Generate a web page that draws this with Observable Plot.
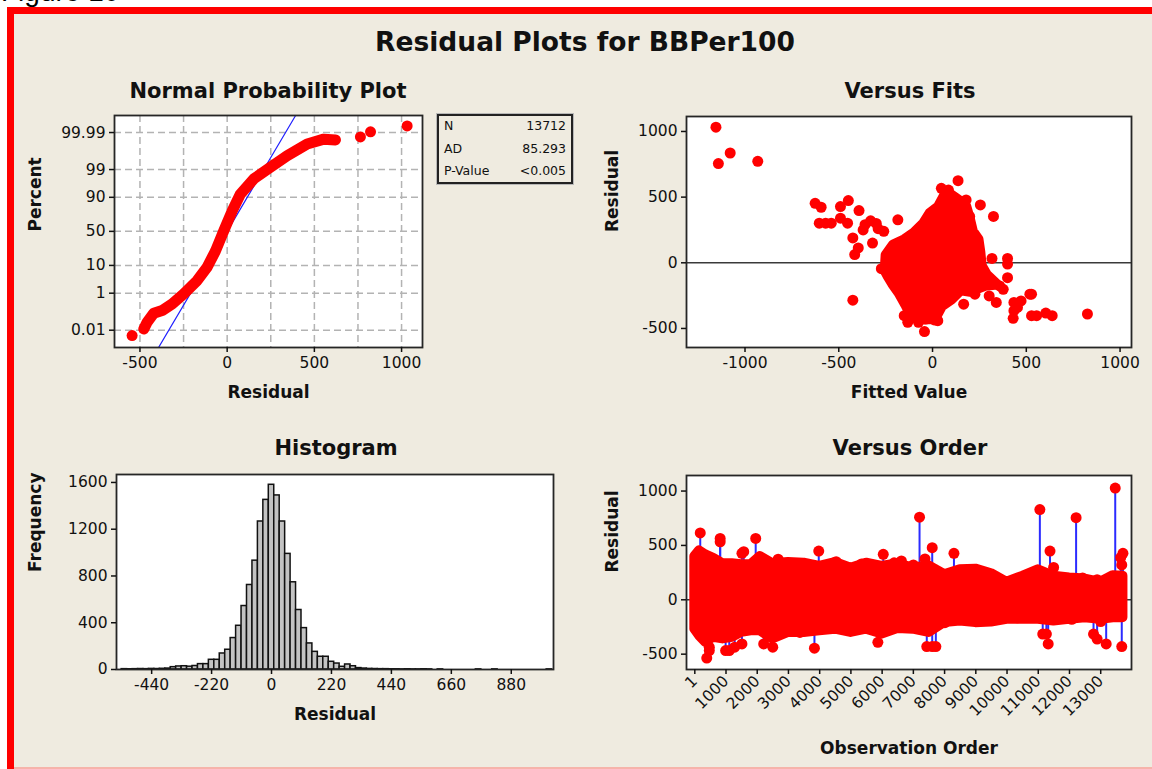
<!DOCTYPE html>
<html>
<head>
<meta charset="utf-8">
<script src="https://cdn.jsdelivr.net/npm/d3@7"></script>
<script src="https://cdn.jsdelivr.net/npm/@observablehq/plot@0.6"></script>
<style>
  body { margin: 0; background: #fff; }
  #page { position: relative; width: 1152px; height: 769px; overflow: hidden; background: #fff;
          font-family: "DejaVu Sans", sans-serif; color: #111; }
  #figlabel { position: absolute; left: 1px; top: -22px; font: 28px/28px "Liberation Sans", Arial, sans-serif; color: #000; }
  #panel { position: absolute; left: 7px; top: 7px; width: 1160px; height: 770px; box-sizing: border-box;
           background: #efebe0; border-left: 7px solid #ff0000; border-top: 7px solid #ff0000; }
  #bottomline { position: absolute; left: 14px; top: 767px; width: 1140px; height: 2px; background: #f6b3aa; }
  .title { position: absolute; transform: translate(-50%, -50%); font-weight: bold; white-space: nowrap; line-height: 1; color: #111; }
  .chart { position: absolute; }
  #stats { position: absolute; left: 437px; top: 114px; width: 136px; height: 70px; box-sizing: border-box;
           border: 2px solid #222; box-shadow: 0 0 0 1px #b8b8b8; font-size: 12.5px; color: #111; }
  #stats .row { position: absolute; left: 5px; right: 5px; height: 14px; line-height: 14px; }
  #stats .row span:last-child { position: absolute; right: 0; }
</style>
</head>
<body>
<div id="page">
  <div id="figlabel">Figure 10</div>
  <div id="panel"></div>
  <div id="bottomline"></div>
  <div class="title" style="left:585px; top:42px; font-size:26.5px;">Residual Plots for BBPer100</div>
  <div class="title" style="left:268px; top:91px; font-size:21px;">Normal Probability Plot</div>
  <div class="title" style="left:910px; top:91px; font-size:21px;">Versus Fits</div>
  <div class="title" style="left:336px; top:448px; font-size:21px;">Histogram</div>
  <div class="title" style="left:910px; top:448px; font-size:21px;">Versus Order</div>
  <div id="stats"></div>
</div>
<script>
// ---------------- data ----------------

// Normal probability plot: ordered residuals against cumulative percent
const probTicks = [0.01, 1, 10, 50, 90, 99, 99.99];
const probCurveResid = [-478, -459, -421, -373, -315, -249, -172, -115, -67, -19, 29, 76, 153, 248, 344, 459, 554, 621];
const probCurvePct   = [0.0121, 0.031, 0.103, 0.144, 0.317, 0.94, 3.2, 8.9, 23, 51, 78, 92, 97.6, 99.2, 99.78, 99.95, 99.974, 99.971];
const probTailResid = [-545, 764, 822, 1032];
const probTailPct   = [0.0044, 99.981, 99.991, 99.9964];
const fitMean = 0;
const fitStDev = 90;
const statNames  = ["N", "AD", "P-Value"];
const statValues = ["13712", "85.293", "<0.005"];

// Versus fits: outline of the dense core, then the separate points
const coreFit = [-255, -250, -210, -150, -100, -50, -15, 30, 60, 100, 140, 180, 200, 215, 245, 255, 262, 290, 345,
                 280, 200, 150, 100, 50, 20, -20, -80, -120, -145, -180, -215, -240];
const coreRes = [-60, 60, 140, 180, 230, 300, 380, 430, 510, 520, 480, 430, 330, 240, 180, 80, -20, -90, -165,
                 -175, -220, -210, -280, -330, -410, -430, -430, -390, -320, -230, -160, -100];
const fitsFit = [-1155, -1142, -1079, -932, -626, -594, -491, -449, -392, -604, -570, -540, -491, -453,
                 -425, -396, -415, -425, -360, -330, -300, -370, -290, -260, -320, -273, -185,
                 136, 47, 85, 179, 151, 198, 255, 325, 317, 400, 400, 400,
                 283, 358, 377, 302, 340, 434, 453, 434, 519, 472,
                 528, 430, 528, 555, 604, 638, 826, 166, 217, 226,
                 -151, -132, -75, -38, 0, 28, -43, 13];
const fitsRes = [1033, 756, 836, 773, 453, 423, 428, 474, 398, 302, 302, 302, 340, 302,
                 189, 113, 63, -285, 290, 320, 300, 250, 260, 240, 150, -45, 327,
                 625, 567, 554, 479, 453, 353, 441, 353, 33, 33, -10, -113,
                 -101, -176, -202, -252, -302, -302, -340, -365, -239, -290,
                 -239, -423, -403, -403, -383, -403, -390, -315, -214, -239,
                 -403, -453, -453, -428, -428, -441, -524, -436];

// Histogram of residuals: bins of width 20 centred on multiples of 20, from -540 to 1020
const histBinWidth = 20;
const histFirstCenter = -540;
const histCounts = [3, 2, 3, 4, 3, 5, 4, 6, 8,
                    20, 26, 28, 24,
                    30, 46, 46, 83, 83, 137, 169, 269, 374, 543, 723, 931, 1266, 1451,
                    1580,
                    1489, 1266, 989, 746, 509, 354, 223, 151, 109, 109, 66, 51, 23, 43, 28, 12, 8, 5, 4, 3,
                    3, 2, 2, 1, 2, 1, 1, 2, 1, 0,
                    1, 0, 0, 0, 0, 0, 0, 1, 0, 0, 1, 0, 0, 0, 0, 0, 0, 0, 0, 0, 1];

// Versus order: envelope of the dense band of residuals, the isolated residuals, and points along the band edge
const bandObs = [1, 150, 350, 600, 900, 1200, 1500, 1800, 2100, 2500, 3000, 3500, 4000, 4500, 5000, 5500, 6000,
                 6500, 7000, 7500, 8000, 8500, 9000, 9500, 10000, 10500, 11000, 11500, 12000, 12500, 13000, 13400, 13712];
const bandHi  = [397, 450, 413, 382, 331, 331, 322, 322, 397, 331, 343, 337, 307, 343, 291, 337, 307,
                 331, 291, 313, 231, 276, 282, 240, 161, 216, 276, 216, 200, 191, 161, 222, 216];
const bandLo  = [-270, -330, -390, -345, -360, -345, -300, -285, -285, -360, -300, -300, -285, -270, -300, -270, -315,
                 -265, -270, -300, -210, -195, -210, -205, -180, -180, -180, -195, -180, -165, -180, -165, -165];
const orderObs = [175, 813, 813, 1510, 1568, 1951, 3970, 6036, 6617, 7198, 7372, 7604, 8300, 11051, 11376, 11492,
                  12212, 13465, 13640, 13674, 13712, 384, 465, 465, 988, 1104, 1278, 1510, 2207, 2497, 3832, 5863,
                  7430, 7604, 7720, 11143, 11260, 11318, 12770, 12885, 13175, 13674];
const orderRes = [615, 564, 533, 427, 442, 564, 448, 418, 357, 760, 376, 479, 427, 830, 448, 297,
                  755, 1027, 388, 321, 427, -536, -467, -436, -467, -467, -436, -406, -406, -436, -445, -391,
                  -430, -430, -430, -315, -315, -406, -315, -361, -406, -430];
const edgeObs = [2670, 3367, 4528, 5340, 6385, 7000, 8590, 9170, 10330, 10796, 12420, 12885,
                 3367, 4992, 6385, 8010, 9170, 10330, 12072, 13000];
const edgeRes = [373, 330, 350, 330, 340, 320, 260, 240, 185, 245, 200, 185,
                 -300, -285, -240, -210, -180, -165, -180, -200];
const orderTicks = [1, 1000, 2000, 3000, 4000, 5000, 6000, 7000, 8000, 9000, 10000, 11000, 12000, 13000];

// ---------------- helpers ----------------

// inverse of the standard normal CDF (Acklam), used for the probability axis
function probit(p) {
  const a = [-3.969683028665376e+01, 2.209460984245205e+02, -2.759285104469687e+02, 1.383577518672690e+02, -3.066479806614716e+01, 2.506628277459239e+00];
  const b = [-5.447609879822406e+01, 1.615858368580409e+02, -1.556989798598866e+02, 6.680131188771972e+01, -1.328068155288572e+01];
  const c = [-7.784894002430293e-03, -3.223964580411365e-01, -2.400758277161838e+00, -2.549732539343734e+00, 4.374664141464968e+00, 2.938163982698783e+00];
  const d = [7.784695709041462e-03, 3.224671290700398e-01, 2.445134137142996e+00, 3.754408661907416e+00];
  const lo = 0.02425, hi = 1 - lo;
  let q, r;
  if (p < lo) {
    q = Math.sqrt(-2 * Math.log(p));
    return (((((c[0]*q + c[1])*q + c[2])*q + c[3])*q + c[4])*q + c[5]) / ((((d[0]*q + d[1])*q + d[2])*q + d[3])*q + 1);
  }
  if (p <= hi) {
    q = p - 0.5; r = q * q;
    return (((((a[0]*r + a[1])*r + a[2])*r + a[3])*r + a[4])*r + a[5])*q / (((((b[0]*r + b[1])*r + b[2])*r + b[3])*r + b[4])*r + 1);
  }
  q = Math.sqrt(-2 * Math.log(1 - p));
  return -(((((c[0]*q + c[1])*q + c[2])*q + c[3])*q + c[4])*q + c[5]) / ((((d[0]*q + d[1])*q + d[2])*q + d[3])*q + 1);
}
const zOf = pct => probit(pct / 100);

const baseStyle = {background: "none", fontFamily: '"DejaVu Sans", sans-serif', fontSize: "15.5px", color: "#111", overflow: "visible"};
const tickOpts = {label: null, tickSize: 5, tickPadding: 4, strokeWidth: 1.5, tickFormat: d => String(d)};
const titleOpts = {fontWeight: "bold", fontSize: 17, fill: "#111"};
const gridOpts = {stroke: "#b3b3b3", strokeOpacity: 1, strokeWidth: 1.5, strokeDasharray: "7,4"};
const frameLine = {stroke: "#262626", strokeWidth: 1.8};

function place(svg, left, top) {
  const holder = document.createElement("div");
  holder.className = "chart";
  holder.style.left = left + "px";
  holder.style.top = top + "px";
  holder.appendChild(svg);
  document.getElementById("page").appendChild(holder);
}

// ---------------- normal probability plot ----------------
const probTickZ = probTicks.map(zOf);
const probTickLabel = new Map(probTickZ.map((z, i) => [z, String(probTicks[i])]));
const zRange = [-4.37, 4.36];
const probCurve = probCurveResid.map((r, i) => ({r, z: zOf(probCurvePct[i])}));
const probTail = probTailResid.map((r, i) => ({r, z: zOf(probTailPct[i])}));
const fitLine = zRange.map(z => ({r: fitMean + fitStDev * z, z}));

place(Plot.plot({
  width: 412, height: 300,
  marginLeft: 94, marginRight: 10, marginTop: 10, marginBottom: 58,
  style: baseStyle,
  x: {domain: [-646, 1120]},
  y: {domain: zRange},
  marks: [
    Plot.frame({fill: "white"}),
    Plot.gridX([-500, -250, 0, 250, 500, 750, 1000], gridOpts),
    Plot.gridY(probTickZ, gridOpts),
    Plot.line(fitLine, {x: "r", y: "z", stroke: "#1f1fff", strokeWidth: 1.2, clip: true}),
    Plot.line(probCurve, {x: "r", y: "z", stroke: "#ff0000", strokeWidth: 11, strokeLinecap: "round", strokeLinejoin: "round"}),
    Plot.dot(probTail, {x: "r", y: "z", r: 5.5, fill: "#ff0000"}),
    Plot.frame(frameLine),
    Plot.axisX([-500, 0, 500, 1000], tickOpts),
    Plot.axisY(probTickZ, {...tickOpts, tickFormat: z => probTickLabel.get(z)}),
    Plot.text(["Residual"], {frameAnchor: "bottom", dy: 50, ...titleOpts}),
    Plot.text(["Percent"], {frameAnchor: "left", dx: -79, rotate: -90, ...titleOpts})
  ]
}), 20, 105);

// statistics box beside the probability plot
const stats = document.getElementById("stats");
statNames.forEach((name, i) => {
  const row = document.createElement("div");
  row.className = "row";
  row.style.top = (3 + i * 22.5) + "px";
  row.innerHTML = `<span>${name}</span><span>${statValues[i].replace("<", "&lt;")}</span>`;
  stats.appendChild(row);
});

// ---------------- versus fits ----------------
const core = coreFit.map((f, i) => ({f, r: coreRes[i]}));
const coreRing = core.concat([core[0]]);
const fitsPts = fitsFit.map((f, i) => ({f, r: fitsRes[i]}));

place(Plot.plot({
  width: 562, height: 300,
  marginLeft: 96, marginRight: 21, marginTop: 11, marginBottom: 58,
  style: baseStyle,
  x: {domain: [-1312, 1061]},
  y: {domain: [-645, 1114]},
  marks: [
    Plot.frame({fill: "white"}),
    Plot.ruleY([0], {stroke: "#3a3a3a", strokeWidth: 1.5}),
    Plot.line(coreRing, {x: "f", y: "r", fill: "#ff0000", stroke: "#ff0000", strokeWidth: 10, strokeLinejoin: "round"}),
    Plot.dot(fitsPts, {x: "f", y: "r", r: 5.5, fill: "#ff0000"}),
    Plot.frame(frameLine),
    Plot.axisX([-1000, -500, 0, 500, 1000], tickOpts),
    Plot.axisY([-500, 0, 500, 1000], tickOpts),
    Plot.text(["Fitted Value"], {frameAnchor: "bottom", dy: 50, ...titleOpts}),
    Plot.text(["Residual"], {frameAnchor: "left", dx: -74, rotate: -90, ...titleOpts})
  ]
}), 590, 105);

// ---------------- histogram ----------------
const histBins = histCounts.map((n, i) => {
  const c = histFirstCenter + i * histBinWidth;
  return {x1: c - histBinWidth / 2, x2: c + histBinWidth / 2, y1: 0, y2: n};
});

place(Plot.plot({
  width: 548, height: 300,
  marginLeft: 96, marginRight: 15, marginTop: 14, marginBottom: 91,
  style: baseStyle,
  x: {domain: [-569, 1035]},
  y: {domain: [0, 1668]},
  marks: [
    Plot.frame({fill: "white"}),
    Plot.rect(histBins, {x1: "x1", x2: "x2", y1: "y1", y2: "y2", fill: "#c3c3c3", stroke: "#111", strokeWidth: 1.5}),
    Plot.frame(frameLine),
    Plot.axisX([-440, -220, 0, 220, 440, 660, 880], tickOpts),
    Plot.axisY([0, 400, 800, 1200, 1600], tickOpts),
    Plot.text(["Residual"], {frameAnchor: "bottom", dy: 50, ...titleOpts}),
    Plot.text(["Frequency"], {frameAnchor: "left", dx: -81, rotate: -90, ...titleOpts})
  ]
}), 20, 460);

// ---------------- versus order ----------------
const band = bandObs.map((o, i) => ({o, lo: bandLo[i], hi: bandHi[i]}));
const orderPts = orderObs.map((o, i) => ({o, r: orderRes[i], base: 0}));
const edgePts = edgeObs.map((o, i) => ({o, r: edgeRes[i]}));

place(Plot.plot({
  width: 562, height: 300,
  marginLeft: 96, marginRight: 21, marginTop: 15, marginBottom: 91,
  style: baseStyle,
  x: {domain: [-265, 13986]},
  y: {domain: [-641, 1143]},
  marks: [
    Plot.frame({fill: "white"}),
    Plot.ruleY([0], {stroke: "#3a3a3a", strokeWidth: 1.5}),
    Plot.ruleX(orderPts, {x: "o", y1: "base", y2: "r", stroke: "#2b2bff", strokeWidth: 2}),
    Plot.areaY(band, {x: "o", y1: "lo", y2: "hi", fill: "#ff0000", stroke: "#ff0000", strokeWidth: 10, strokeLinejoin: "round"}),
    Plot.dot(edgePts, {x: "o", y: "r", r: 5.5, fill: "#ff0000"}),
    Plot.dot(orderPts, {x: "o", y: "r", r: 5.5, fill: "#ff0000"}),
    Plot.frame(frameLine),
    Plot.axisX(orderTicks, {...tickOpts, tickRotate: -45}),
    Plot.axisY([-500, 0, 500, 1000], tickOpts),
    Plot.text(["Observation Order"], {frameAnchor: "bottom", dy: 84, ...titleOpts}),
    Plot.text(["Residual"], {frameAnchor: "left", dx: -74, rotate: -90, ...titleOpts})
  ]
}), 590, 460);
</script>
</body>
</html>
